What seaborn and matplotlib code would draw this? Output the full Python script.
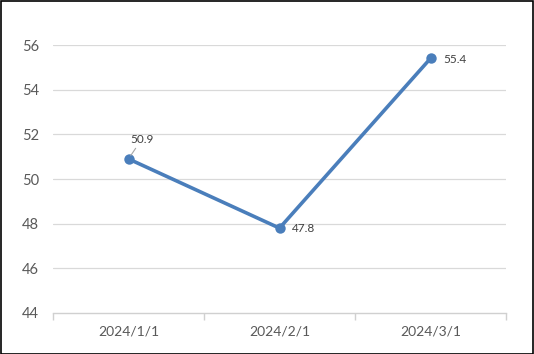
import matplotlib
matplotlib.use("Agg")
import matplotlib.pyplot as plt
import seaborn as sns
import pandas as pd
from matplotlib.ticker import FixedLocator

categories = ["2024/1/1", "2024/2/1", "2024/3/1"]
values = [50.9, 47.8, 55.4]
yticks = [44, 46, 48, 50, 52, 54, 56]

sns.set_theme(style="white")
plt.rcParams['font.family'] = ['Lato', 'DejaVu Sans']

df = pd.DataFrame({"date": categories, "value": values})

fig = plt.figure(figsize=(5.34, 3.54), dpi=100)
ax = fig.add_axes([53/534, 1-313/354, (506-53)/534, (313-45)/354])

line_color = "#4a7ebb"
sns.lineplot(data=df, x="date", y="value", ax=ax, color=line_color, linewidth=2.6,
             marker="o", markersize=7.5, markeredgewidth=0, sort=False)

ax.set_xlim(-0.5, 2.5)
ax.set_ylim(44, 56)
ax.set_yticks(yticks)
ax.set_xticks(range(len(categories)))
ax.set_xticklabels(categories)
ax.xaxis.set_minor_locator(FixedLocator([-0.5, 0.5, 1.5, 2.5]))
ax.set_xlabel("")
ax.set_ylabel("")

for y in yticks[1:]:
    ax.axhline(y, color="#d9d9d9", linewidth=0.9, zorder=0)

for s in ["top", "right", "left"]:
    ax.spines[s].set_visible(False)
ax.spines["bottom"].set_color("#d0d0d0")
ax.spines["bottom"].set_linewidth(1.0)

ax.tick_params(axis="y", which="both", length=0, labelsize=10.5, labelcolor="#595959", pad=10)
ax.tick_params(axis="x", which="major", length=0, labelsize=10, labelcolor="#595959", pad=9)
ax.tick_params(axis="x", which="minor", length=5, width=1, color="#d0d0d0", bottom=True)

# data labels
ax.annotate("50.9", xy=(0, 50.9), xytext=(1, 10), textcoords="offset points",
            fontsize=8.5, color="#404040", ha="left", va="bottom",
            arrowprops=dict(arrowstyle="-", color="#a6a6a6", lw=0.8, shrinkA=0, shrinkB=3))
ax.annotate("47.8", xy=(1, 47.8), xytext=(9, -0.5), textcoords="offset points",
            fontsize=8.5, color="#404040", ha="left", va="center")
ax.annotate("55.4", xy=(2, 55.4), xytext=(9, -0.5), textcoords="offset points",
            fontsize=8.5, color="#404040", ha="left", va="center")

# figure border
fig.patches.append(plt.Rectangle((0.001, 0.001), 0.997, 0.996, transform=fig.transFigure,
                                 fill=False, edgecolor="black", linewidth=1.2))

fig.savefig("out.png", dpi=100)
